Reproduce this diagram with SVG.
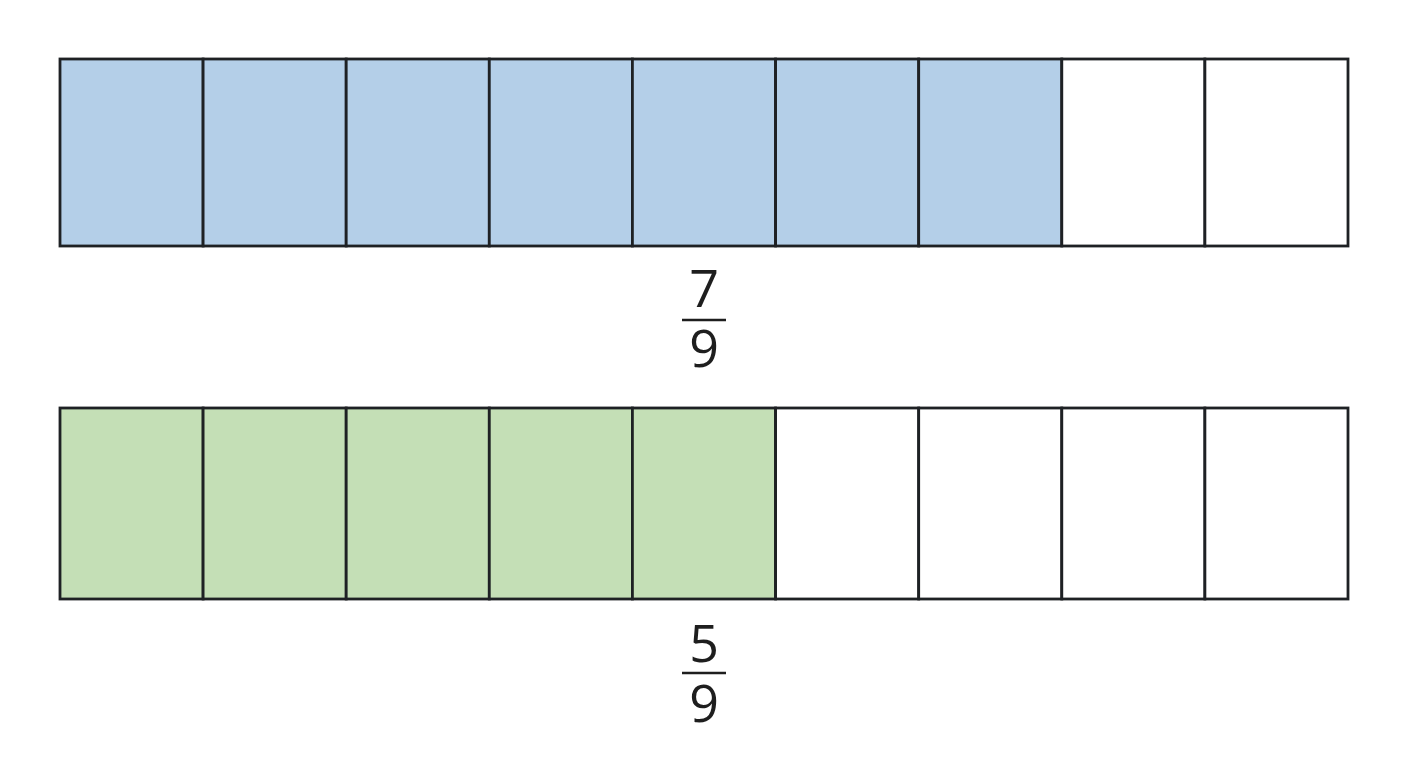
<svg xmlns="http://www.w3.org/2000/svg" width="1408" height="768" viewBox="0 0 1408 768">
<style>
.c{stroke:#1e2124;stroke-width:2.8}
.b{fill:#b4cfe8}
.g{fill:#c4dfb6}
.w{fill:#ffffff}
.t{font-family:"Open Sans","Liberation Sans",sans-serif;font-size:52px;fill:#1e1e1e;text-anchor:middle}
.f{stroke:#1e1e1e;stroke-width:2.5}
</style>
<rect width="1408" height="768" fill="#ffffff"/>
<g id="bar-top">
<rect class="c b" x="60" y="59" width="143.1" height="187"/>
<rect class="c b" x="203.1" y="59" width="143.1" height="187"/>
<rect class="c b" x="346.2" y="59" width="143.1" height="187"/>
<rect class="c b" x="489.3" y="59" width="143.1" height="187"/>
<rect class="c b" x="632.4" y="59" width="143.1" height="187"/>
<rect class="c b" x="775.6" y="59" width="143.1" height="187"/>
<rect class="c b" x="918.7" y="59" width="143.1" height="187"/>
<rect class="c w" x="1061.8" y="59" width="143.1" height="187"/>
<rect class="c w" x="1204.9" y="59" width="143.1" height="187"/>
</g>
<g id="frac-top">
<text class="t" x="704" y="307">7</text>
<line class="f" x1="682" y1="320" x2="726" y2="320"/>
<text class="t" x="704" y="367">9</text>
</g>
<g id="bar-bottom">
<rect class="c g" x="60" y="408" width="143.1" height="191"/>
<rect class="c g" x="203.1" y="408" width="143.1" height="191"/>
<rect class="c g" x="346.2" y="408" width="143.1" height="191"/>
<rect class="c g" x="489.3" y="408" width="143.1" height="191"/>
<rect class="c g" x="632.4" y="408" width="143.1" height="191"/>
<rect class="c w" x="775.6" y="408" width="143.1" height="191"/>
<rect class="c w" x="918.7" y="408" width="143.1" height="191"/>
<rect class="c w" x="1061.8" y="408" width="143.1" height="191"/>
<rect class="c w" x="1204.9" y="408" width="143.1" height="191"/>
</g>
<g id="frac-bottom">
<text class="t" x="704" y="662">5</text>
<line class="f" x1="682" y1="673" x2="726" y2="673"/>
<text class="t" x="704" y="722">9</text>
</g>
<g id="connectors"></g>
</svg>
